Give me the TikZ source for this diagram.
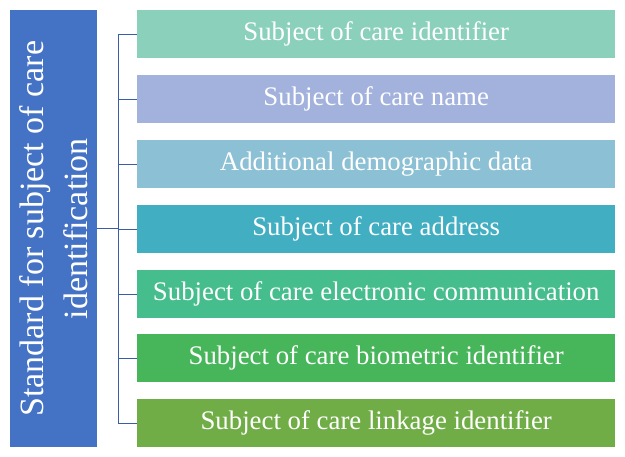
\documentclass[tikz,border=0pt]{standalone}
\usepackage{fontspec}
\setmainfont{Liberation Serif}
\begin{document}
\begin{tikzpicture}[x=1pt,y=-1pt,
  item/.style={draw=none,minimum width=478pt,minimum height=48pt,anchor=north west,text=white,font=\fontsize{26.8}{30}\selectfont,inner sep=0pt},
  conn/.style={draw=lc,line width=0.9pt}]
\useasboundingbox (0,0) rectangle (625,457);
\definecolor{cA}{HTML}{8AD0BB}\definecolor{cB}{HTML}{A3B1DD}\definecolor{cC}{HTML}{8CC0D4}
\definecolor{cD}{HTML}{42AEC2}\definecolor{cE}{HTML}{45BD8C}\definecolor{cF}{HTML}{47B65A}\definecolor{cG}{HTML}{70AD47}
\definecolor{cL}{HTML}{4472C4}\definecolor{lc}{HTML}{3A5DA8}
\node[fill=cL,minimum width=87pt,minimum height=437pt,anchor=north west,inner sep=0pt] (L) at (10,10) {};
\node[rotate=90,text=white,align=center,font=\fontsize{34}{44}\selectfont] (Lt) at (L.center) {Standard for subject of care\\identification};
\node[item,fill=cA] (a) at (137,10) {Subject of care identifier};
\node[item,fill=cB] (b) at (137,75) {Subject of care name};
\node[item,fill=cC] (c) at (137,140) {Additional demographic data};
\node[item,fill=cD] (d) at (137,205) {Subject of care address};
\node[item,fill=cE] (e) at (137,270) {Subject of care electronic communication};
\node[item,fill=cF] (f) at (137,334) {Subject of care biometric identifier};
\node[item,fill=cG] (g) at (137,399) {Subject of care linkage identifier};
\coordinate (j) at (118,228);
\draw[conn] (L.east |- j) -- (j);
\foreach \n in {a,b,c,d,e,f,g}{
  \draw[conn] (j |- \n.west) -- (\n.west);}
\draw[conn] (j |- a.west) -- (j |- g.west);
\end{tikzpicture}
\end{document}
